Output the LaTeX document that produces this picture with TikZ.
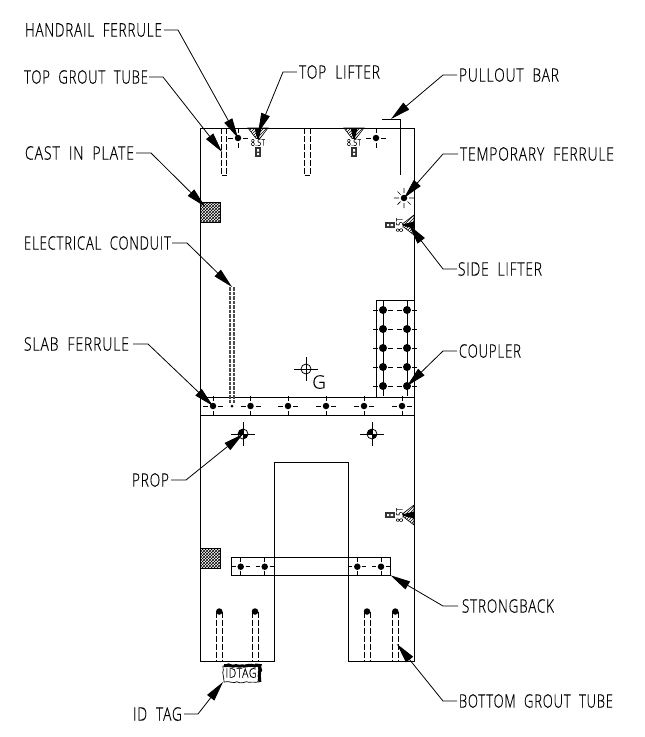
\documentclass[tikz,border=0pt]{standalone}
\usepackage{graphicx}
\usepackage{fontspec}
\newfontfamily\lblfont[LetterSpace=6,WordSpace=2,FakeBold=0.35]{Open Sans Light}
\usetikzlibrary{arrows.meta,patterns,decorations.pathmorphing}
\tikzset{
  base/.style={line width=0.8pt,black},
  lead/.style={line width=0.8pt,black,-{Triangle[length=20pt,width=9pt]}},
  lbl/.style={inner sep=0pt,outer sep=0pt,anchor=west},
  dotn/.style={circle,fill=black,draw=none,minimum size=6.5pt,inner sep=0pt},
  bigdot/.style={circle,fill=black,draw=none,minimum size=8pt,inner sep=0pt},
  tube/.style={line width=0.9pt,dash pattern=on 6pt off 2pt},
  cond/.style={line width=1.7pt,black!70,dash pattern=on 3.5pt off 1pt},
  plate/.style={draw=black,line width=0.6pt,pattern=crosshatch,minimum width=19.5pt,minimum height=20pt,inner sep=0pt},
  cgn/.style={circle,draw=black,line width=0.8pt,minimum size=10pt,inner sep=0pt}
}
\newcommand{\lab}[5]{\node[lbl] (#1) at (#2,#3) {\resizebox{#4pt}{13.5pt}{\lblfont #5}};}
\newcommand{\ferr}[3]{%
  \node[dotn] (#1) at (#2,#3) {};
  \draw[base,line width=0.7pt] (#2-10,#3)--(#2-5,#3) (#2+5,#3)--(#2+10,#3) (#2,#3-10)--(#2,#3-5) (#2,#3+5)--(#2,#3+10);}
\newcommand{\coup}[3]{%
  \node[bigdot] (#1) at (#2,#3) {};
  \draw[base,line width=0.7pt] (#2-10,#3)--(#2-5,#3) (#2+5,#3)--(#2+10,#3) (#2,#3-10)--(#2,#3+10);}
\newcommand{\lifter}[5]{%
  \begin{scope}[shift={(#2,#3)},rotate=#4]
    \draw[line width=0.6pt,pattern=north east lines] (-10,0)--(10,0)--(0,13)--cycle;
    \fill (-3.5,0)--(3.5,0)--(0,14)--cycle;
    \coordinate (#1) at (0,5);
    \draw[line width=0.8pt] (0,13)--(0,18);
    \fill[black!80] (-3,19)--(3,19)--(3,29)--(-3,29)--cycle;
    \fill[white] (-1,21)--(1,21)--(1,23.5)--(-1,23.5)--cycle (-1,25)--(1,25)--(1,27)--(-1,27)--cycle;
    \node[inner sep=0pt,fill=white,rotate=#5] at (0,14.5) {\resizebox{14pt}{6.5pt}{\lblfont 8.5T}};
  \end{scope}}
\newcommand{\btube}[3]{%
  \node[dotn] (#1) at (#2,#3) {};
  \draw[tube] (#2-3,#3) -- (#2-3,661) (#2+3,#3) -- (#2+3,661);}
\newcommand{\propsym}[3]{%
  \node[cgn] (#1) at (#2,#3) {};
  \fill (#2,#3) -- (#2-5,#3) arc[start angle=180,end angle=90,radius=5pt] -- cycle;
  \fill (#2,#3) -- (#2+5,#3) arc[start angle=0,end angle=-90,radius=5pt] -- cycle;
  \draw[base,line width=0.7pt] (#2-12,#3)--(#2+12,#3) (#2,#3-12)--(#2,#3+12);}
\begin{document}
\begin{tikzpicture}[x=1pt,y=-1pt]
\useasboundingbox (0,0) rectangle (645,737);
\fill[white] (0,0) rectangle (645,737);
% panel
\draw[base] (200.5,128) -- (414,128) -- (414,661) -- (348,661) -- (348,462) -- (274,462) -- (274,661) -- (200.5,661) -- cycle;
\draw[base] (200.5,397) -- (414,397) (200.5,415.5) -- (414,415.5);
% pullout bar
\draw[base] (382,119) -- (400.5,119) -- (400.5,175);
\coordinate (pull) at (391,119);
% top grout tubes
\draw[tube] (221.5,128) -- (221.5,175) (226.5,128) -- (226.5,175);
\draw[base] (221.5,175) -- (226.5,175);
\draw[tube] (304.7,128) -- (304.7,175) (310,128) -- (310,175);
\draw[base] (304.7,175) -- (310,175);
\coordinate (topgrout) at (222,152);
% lifters
\lifter{tl1}{258}{128}{0}{0}
\lifter{tl2}{354}{128}{0}{0}
\lifter{sl1}{414}{225}{-90}{90}
\lifter{sl2}{414}{515}{-90}{90}
% ferrules
\ferr{hand}{238}{138}
\ferr{tr}{376}{138}
\node[dotn] (temp) at (404,198) {};
\draw[base,line width=0.7pt] (394,198)--(399,198) (409,198)--(414,198) (404,188)--(404,193) (404,203)--(404,208)
  (397.5,191.5)--(400.5,194.5) (410.5,191.5)--(407.5,194.5) (397.5,204.5)--(400.5,201.5) (410.5,204.5)--(407.5,201.5);
% plates
\node[plate] (plate1) at (210.2,212) {};
\node[plate] (plate2) at (210.2,558.5) {};
% conduit
\draw[cond] (230,287) -- (230,404) (233.8,287) -- (233.8,404);
\node[circle,fill=black,minimum size=3pt,inner sep=0pt] at (232,406) {};
\coordinate (condtop) at (232,287);
% slab ferrules
\foreach \n/\x in {a/213,b/250.5,c/288,d/326,e/364,f/402}{\ferr{s\n}{\x}{406}}
% coupler
\draw[base] (376.3,397) -- (376.3,300.7) -- (414,300.7);
\foreach \y [count=\i] in {310,329,348,367,386}{\coup{cl\i}{383}{\y}\coup{cr\i}{407}{\y}}
% centre of gravity
\node[cgn] (cg) at (306,369) {};
\draw[base,line width=0.7pt] (294,369)--(318,369) (306,357)--(306,381);
\node[inner sep=0pt] (gl) at (319,382) {\resizebox{!}{13.5pt}{\lblfont G}};
% props
\propsym{prop1}{243}{434}
\propsym{prop2}{372}{434}
% strongback
\draw[base] (231.3,557.7) rectangle (390.7,575.3);
\foreach \n/\x in {a/240.7,b/264.7,c/357.3,d/381}{
  \node[dotn] (b\n) at (\x,566.7) {};
  \draw[base,line width=0.7pt] (\x-9,566.7)--(\x-5,566.7) (\x+5,566.7)--(\x+9,566.7) (\x,558)--(\x,562) (\x,571)--(\x,575);}
\coordinate (sb) at (390.5,575.3);
% bottom grout tubes
\btube{g1}{219.3}{611.5}
\btube{g2}{255}{611.5}
\btube{g3}{367}{611.5}
\btube{g4}{395.3}{611.5}
\coordinate (bgrout) at (397,644);
% id tag
\draw[line width=0.7pt,decorate,decoration={random steps,segment length=3pt,amplitude=0.9pt}] (223,666) -- (258,666) -- (258,682) -- (224,682) -- cycle;
\draw[line width=3pt,decorate,decoration={random steps,segment length=2pt,amplitude=0.9pt}] (224,665.5) -- (260,665.5) -- (260,682);
\node[inner sep=0pt] (idt) at (241,673) {\resizebox{31pt}{9.5pt}{\lblfont IDTAG}};
\coordinate (idtip) at (223,682);
% labels
\lab{lhf}{25}{30}{137}{HANDRAIL FERRULE}
\lab{ltg}{24}{77}{124}{TOP GROUT TUBE}
\lab{lcp}{25}{153}{109}{CAST IN PLATE}
\lab{lec}{24}{243}{147}{ELECTRICAL CONDUIT}
\lab{lsf}{24}{344}{105}{SLAB FERRULE}
\lab{lpr}{132}{480}{37}{PROP}
\lab{ltl}{299}{72}{81}{TOP LIFTER}
\lab{lpb}{459}{75}{100}{PULLOUT BAR}
\lab{ltf}{460}{154}{154}{TEMPORARY FERRULE}
\lab{lsl}{458}{269}{84}{SIDE LIFTER}
\lab{lco}{459}{351}{62}{COUPLER}
\lab{lsb}{462}{606}{92}{STRONGBACK}
\lab{lbg}{459}{701}{154}{BOTTOM GROUT TUBE}
\lab{lid}{133}{714}{49}{ID TAG}
% leaders
\draw[lead] ([xshift=2pt]lhf.east) -- ++(14,0) -- (hand.center);
\draw[lead] ([xshift=1pt]ltg.east) -- ++(14,0) -- (topgrout);
\draw[lead] ([xshift=2pt]lcp.east) -- ++(15,0) -- ([shift={(5,5)}]plate1.north west);
\draw[lead] ([xshift=1pt]lec.east) -- ++(15,0) -- (condtop);
\draw[lead] ([xshift=4pt]lsf.east) -- ++(15,0) -- (sa.center);
\draw[lead] ([xshift=2pt]lpr.east) -- ++(15,0) -- (prop1.center);
\draw[lead] ([xshift=-2pt]ltl.west) -- ++(-14,0) -- (tl1);
\draw[lead] ([xshift=-2pt]lpb.west) -- ++(-14,0) -- (pull);
\draw[lead] ([xshift=-2pt]ltf.west) -- ++(-15,0) -- (temp.center);
\draw[lead] ([xshift=-1pt]lsl.west) -- ++(-14,0) -- (sl1);
\draw[lead] ([xshift=-2pt]lco.west) -- ++(-14,0) -- (cr5.center);
\draw[lead] ([xshift=-4pt]lsb.west) -- ++(-15,0) -- (sb);
\draw[lead] ([xshift=-2pt]lbg.west) -- ++(-14,0) -- (bgrout);
\draw[lead] ([xshift=2pt]lid.east) -- ++(14,0) -- (idtip);
\end{tikzpicture}
\end{document}
